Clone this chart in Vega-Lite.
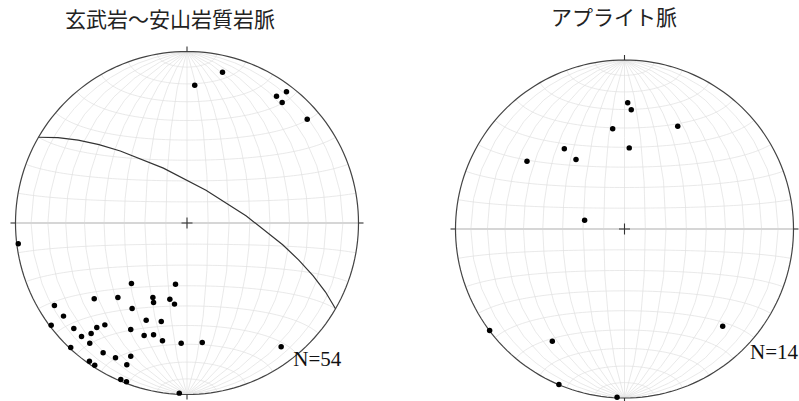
{
  "$schema": "https://vega.github.io/schema/vega-lite/v6.json",
  "background": "white",
  "padding": {"left": 7.5, "top": 7.5, "right": 0, "bottom": 0},
  "spacing": 81,
  "config": {
    "view": {"stroke": null},
    "title": {"font": "Noto Sans CJK JP", "fontSize": 21, "fontWeight": "normal", "color": "#222"}
  },
  "hconcat": [
    {
      "width": 343,
      "height": 343,
      "title": {"text": "玄武岩～安山岩質岩脈", "offset": 13.3, "dx": -17},
      "layer": [
        {
          "data": {"graticule": {"step": [10, 10], "extentMinor": [[-180, -89.99], [180, 89.99]]}},
          "mark": {"type": "geoshape", "filled": false, "stroke": "#e0e0e0", "strokeWidth": 0.7},
          "projection": {"type": "azimuthalEqualArea", "clipAngle": 90, "rotate": [0, 0, 0]}
        },
        {
          "data": {"values": [{"type": "Feature", "properties": {"name": "equator"}, "geometry": {"type": "LineString", "coordinates": [[-90, 0], [0, 0], [90, 0]]}}]},
          "mark": {"type": "geoshape", "filled": false, "stroke": "#d6d6d6", "strokeWidth": 1.8},
          "projection": {"type": "azimuthalEqualArea", "clipAngle": 90, "rotate": [0, 0, 0]}
        },
        {
          "data": {"sphere": true},
          "mark": {"type": "geoshape", "filled": false, "stroke": "#444", "strokeWidth": 1.2},
          "projection": {"type": "azimuthalEqualArea", "clipAngle": 90, "rotate": [0, 0, 0]}
        },
        {
          "data": {"values": [{"type": "Feature", "properties": {"name": "plane"}, "geometry": {"type": "LineString", "coordinates": [[-90, 30], [9.23, 15.52], [90, -30]]}}]},
          "mark": {"type": "geoshape", "filled": false, "stroke": "#333", "strokeWidth": 1.2},
          "projection": {"type": "azimuthalEqualArea", "clipAngle": 90, "rotate": [0, 0, 0]}
        },
        {
          "data": {"values": [{}]},
          "mark": {"type": "point", "shape": "M-1,0L1,0M0,-1L0,1", "size": 121, "filled": false, "stroke": "#333", "strokeWidth": 1.1, "opacity": 1},
          "encoding": {
            "x": {"datum": 0, "type": "quantitative", "scale": {"domain": [-1, 1], "nice": false, "zero": false}, "axis": null},
            "y": {"datum": 0, "type": "quantitative", "scale": {"domain": [-1, 1], "nice": false, "zero": false}, "axis": null}
          }
        },
        {
          "data": {"values": [{}]},
          "mark": {"type": "point", "shape": "M0,0L0,-1", "size": 100, "filled": false, "stroke": "#333", "strokeWidth": 1.1, "opacity": 1},
          "encoding": {"x": {"datum": 0, "type": "quantitative"}, "y": {"datum": 1, "type": "quantitative"}}
        },
        {
          "data": {"values": [{}]},
          "mark": {"type": "point", "shape": "M0,0L0,1", "size": 100, "filled": false, "stroke": "#333", "strokeWidth": 1.1, "opacity": 1},
          "encoding": {"x": {"datum": 0, "type": "quantitative"}, "y": {"datum": -1, "type": "quantitative"}}
        },
        {
          "data": {"values": [{}]},
          "mark": {"type": "point", "shape": "M0,0L1,0", "size": 100, "filled": false, "stroke": "#333", "strokeWidth": 1.1, "opacity": 1},
          "encoding": {"x": {"datum": 1, "type": "quantitative"}, "y": {"datum": 0, "type": "quantitative"}}
        },
        {
          "data": {"values": [{}]},
          "mark": {"type": "point", "shape": "M0,0L-1,0", "size": 100, "filled": false, "stroke": "#333", "strokeWidth": 1.1, "opacity": 1},
          "encoding": {"x": {"datum": -1, "type": "quantitative"}, "y": {"datum": 0, "type": "quantitative"}}
        },
        {
          "data": {"values": [
            {"x": 0.045, "y": 0.803}, {"x": 0.207, "y": 0.879}, {"x": 0.522, "y": 0.739}, {"x": 0.580, "y": 0.765},
            {"x": 0.555, "y": 0.703}, {"x": 0.701, "y": 0.605}, {"x": -0.984, "y": -0.121},
            {"x": -0.324, "y": -0.353}, {"x": -0.067, "y": -0.357}, {"x": -0.541, "y": -0.442}, {"x": -0.403, "y": -0.434},
            {"x": -0.199, "y": -0.434}, {"x": -0.195, "y": -0.464}, {"x": -0.100, "y": -0.444}, {"x": -0.073, "y": -0.473},
            {"x": -0.773, "y": -0.481}, {"x": -0.320, "y": -0.499}, {"x": -0.720, "y": -0.543}, {"x": -0.238, "y": -0.567},
            {"x": -0.150, "y": -0.574}, {"x": -0.792, "y": -0.596}, {"x": -0.479, "y": -0.594}, {"x": -0.526, "y": -0.609},
            {"x": -0.660, "y": -0.615}, {"x": -0.328, "y": -0.621}, {"x": -0.559, "y": -0.644}, {"x": -0.615, "y": -0.662},
            {"x": -0.250, "y": -0.656}, {"x": -0.195, "y": -0.652}, {"x": -0.143, "y": -0.687}, {"x": -0.567, "y": -0.701},
            {"x": -0.034, "y": -0.701}, {"x": 0.089, "y": -0.697}, {"x": -0.678, "y": -0.726}, {"x": 0.549, "y": -0.722},
            {"x": -0.489, "y": -0.757}, {"x": -0.417, "y": -0.786}, {"x": -0.328, "y": -0.777}, {"x": -0.569, "y": -0.806},
            {"x": -0.538, "y": -0.829}, {"x": -0.351, "y": -0.827}, {"x": -0.386, "y": -0.913}, {"x": -0.353, "y": -0.926},
            {"x": -0.045, "y": -0.992}
          ]},
          "mark": {"type": "point", "shape": "circle", "filled": true, "color": "#000", "size": 30, "opacity": 1},
          "encoding": {"x": {"field": "x", "type": "quantitative"}, "y": {"field": "y", "type": "quantitative"}}
        },
        {
          "data": {"values": [{}]},
          "mark": {"type": "text", "text": "N=54", "font": "Liberation Serif", "fontSize": 21, "align": "left", "baseline": "middle", "color": "#111"},
          "encoding": {"x": {"datum": 0.62, "type": "quantitative"}, "y": {"datum": -0.8, "type": "quantitative"}}
        }
      ]
    },
    {
      "width": 338,
      "height": 355,
      "title": {"text": "アプライト脈", "offset": 22.7, "dx": -10.5},
      "layer": [
        {
          "data": {"graticule": {"step": [10, 10], "extentMinor": [[-180, -89.99], [180, 89.99]]}},
          "mark": {"type": "geoshape", "filled": false, "stroke": "#e0e0e0", "strokeWidth": 0.7},
          "projection": {"type": "azimuthalEqualArea", "clipAngle": 90, "rotate": [0, 0, 0]}
        },
        {
          "data": {"values": [{"type": "Feature", "properties": {"name": "equator"}, "geometry": {"type": "LineString", "coordinates": [[-90, 0], [0, 0], [90, 0]]}}]},
          "mark": {"type": "geoshape", "filled": false, "stroke": "#d6d6d6", "strokeWidth": 1.8},
          "projection": {"type": "azimuthalEqualArea", "clipAngle": 90, "rotate": [0, 0, 0]}
        },
        {
          "data": {"sphere": true},
          "mark": {"type": "geoshape", "filled": false, "stroke": "#444", "strokeWidth": 1.2},
          "projection": {"type": "azimuthalEqualArea", "clipAngle": 90, "rotate": [0, 0, 0]}
        },
        {
          "data": {"values": [{}]},
          "mark": {"type": "point", "shape": "M-1,0L1,0M0,-1L0,1", "size": 121, "filled": false, "stroke": "#333", "strokeWidth": 1.1, "opacity": 1},
          "encoding": {
            "x": {"datum": 0, "type": "quantitative", "scale": {"domain": [-1, 1], "nice": false, "zero": false}, "axis": null},
            "y": {"datum": 0, "type": "quantitative", "scale": {"domain": [-1.0503, 1.0503], "nice": false, "zero": false}, "axis": null}
          }
        },
        {
          "data": {"values": [{}]},
          "mark": {"type": "point", "shape": "M0,0L0,-1", "size": 100, "filled": false, "stroke": "#333", "strokeWidth": 1.1, "opacity": 1},
          "encoding": {"x": {"datum": 0, "type": "quantitative"}, "y": {"datum": 1, "type": "quantitative"}}
        },
        {
          "data": {"values": [{}]},
          "mark": {"type": "point", "shape": "M0,0L0,1", "size": 100, "filled": false, "stroke": "#333", "strokeWidth": 1.1, "opacity": 1},
          "encoding": {"x": {"datum": 0, "type": "quantitative"}, "y": {"datum": -1, "type": "quantitative"}}
        },
        {
          "data": {"values": [{}]},
          "mark": {"type": "point", "shape": "M0,0L1,0", "size": 100, "filled": false, "stroke": "#333", "strokeWidth": 1.1, "opacity": 1},
          "encoding": {"x": {"datum": 1, "type": "quantitative"}, "y": {"datum": 0, "type": "quantitative"}}
        },
        {
          "data": {"values": [{}]},
          "mark": {"type": "point", "shape": "M0,0L-1,0", "size": 100, "filled": false, "stroke": "#333", "strokeWidth": 1.1, "opacity": 1},
          "encoding": {"x": {"datum": -1, "type": "quantitative"}, "y": {"datum": 0, "type": "quantitative"}}
        },
        {
          "data": {"values": [
            {"x": 0.019, "y": 0.747}, {"x": 0.040, "y": 0.705}, {"x": -0.070, "y": 0.593}, {"x": 0.315, "y": 0.608},
            {"x": 0.028, "y": 0.480}, {"x": -0.356, "y": 0.475}, {"x": -0.577, "y": 0.401}, {"x": -0.287, "y": 0.411},
            {"x": -0.236, "y": 0.052}, {"x": -0.798, "y": -0.601}, {"x": -0.427, "y": -0.664}, {"x": 0.581, "y": -0.575},
            {"x": -0.388, "y": -0.920}, {"x": -0.044, "y": -0.995}
          ]},
          "mark": {"type": "point", "shape": "circle", "filled": true, "color": "#000", "size": 30, "opacity": 1},
          "encoding": {"x": {"field": "x", "type": "quantitative"}, "y": {"field": "y", "type": "quantitative"}}
        },
        {
          "data": {"values": [{}]},
          "mark": {"type": "text", "text": "N=14", "font": "Liberation Serif", "fontSize": 21, "align": "left", "baseline": "middle", "color": "#111"},
          "encoding": {"x": {"datum": 0.743, "type": "quantitative"}, "y": {"datum": -0.731, "type": "quantitative"}}
        }
      ]
    }
  ]
}
